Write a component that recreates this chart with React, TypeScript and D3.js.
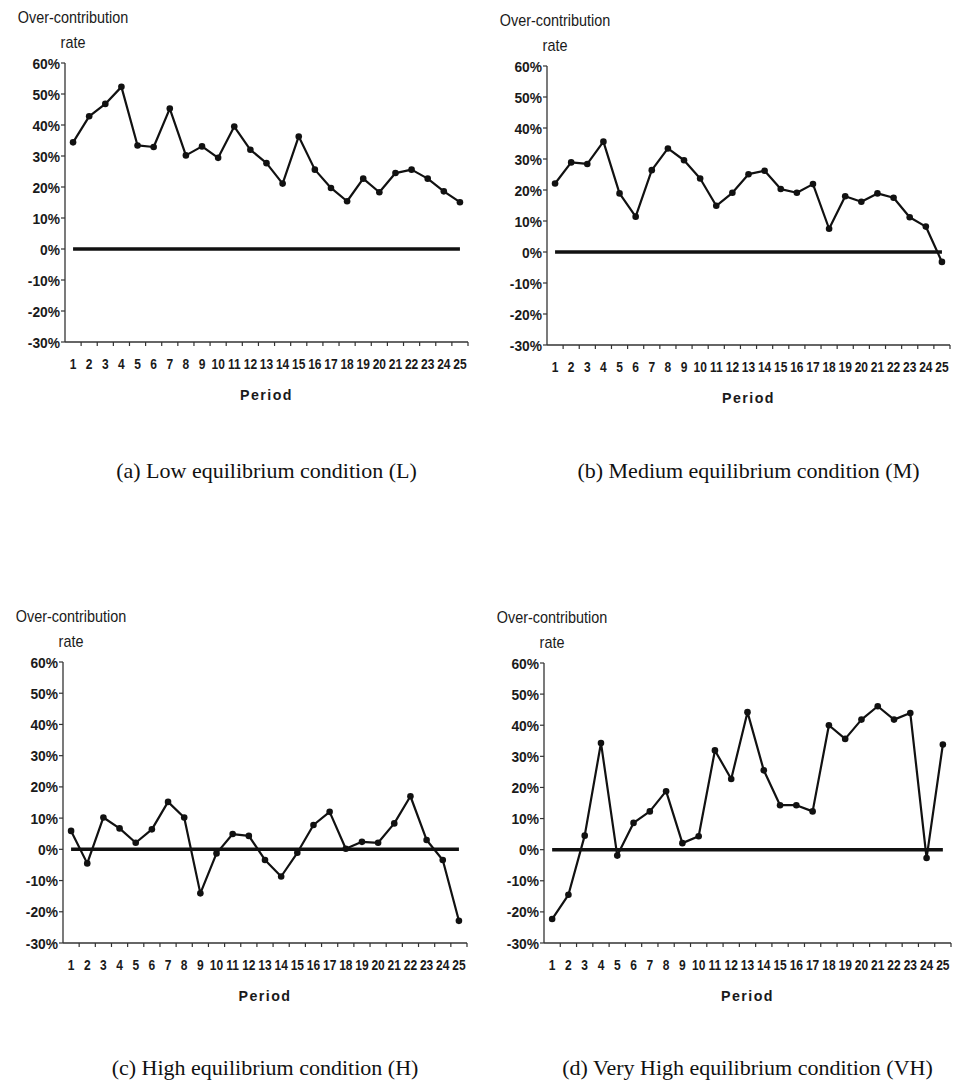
import React from "react";
import { scaleBand, scaleLinear, line } from "d3";

const periods = Array.from({ length: 25 }, (_, i) => i + 1);
const yTicks = [-30, -20, -10, 0, 10, 20, 30, 40, 50, 60];

const lowValues = [
  34.4, 42.8, 46.8, 52.3, 33.4, 32.9, 45.3, 30.2, 33.1, 29.4, 39.5, 32.0, 27.7,
  21.1, 36.3, 25.6, 19.7, 15.4, 22.7, 18.3, 24.5, 25.6, 22.7, 18.6, 15.1,
];
const mediumValues = [
  22.1, 28.9, 28.4, 35.6, 18.9, 11.4, 26.4, 33.4, 29.6, 23.7, 14.9, 19.1, 25.1,
  26.2, 20.3, 19.1, 21.9, 7.5, 18.0, 16.2, 18.9, 17.5, 11.2, 8.2, -3.2,
];
const highValues = [
  5.9, -4.5, 10.2, 6.7, 2.1, 6.4, 15.2, 10.2, -14.1, -1.3, 4.9, 4.3, -3.4,
  -8.7, -1.1, 7.8, 12.0, 0.2, 2.4, 2.1, 8.3, 17.0, 3.0, -3.4, -22.9,
];
const veryHighValues = [
  -22.3, -14.5, 4.5, 34.3, -1.9, 8.6, 12.3, 18.8, 2.1, 4.3, 31.9, 22.7, 44.2,
  25.5, 14.3, 14.3, 12.3, 40.0, 35.6, 41.8, 46.1, 41.8, 43.9, -2.7, 33.8,
];

const captions = [
  "(a) Low equilibrium condition (L)",
  "(b) Medium equilibrium condition (M)",
  "(c) High equilibrium condition (H)",
  "(d) Very High equilibrium condition (VH)",
];

const sans = "'Liberation Sans', Arial, sans-serif";
const serif = "'Liberation Serif', 'Times New Roman', serif";

function Narrow({
  x,
  y,
  sx = 0.86,
  anchor = "middle",
  size = 14,
  weight = 700,
  spacing = 0,
  children,
}: {
  x: number;
  y: number;
  sx?: number;
  anchor?: "start" | "middle" | "end";
  size?: number;
  weight?: number;
  spacing?: number;
  children: React.ReactNode;
}) {
  return (
    <g transform={`translate(${x},${y}) scale(${sx},1)`}>
      <text
        textAnchor={anchor}
        fontFamily={sans}
        fontSize={size}
        fontWeight={weight}
        letterSpacing={spacing}
        fill="#1a1a1a"
      >
        {children}
      </text>
    </g>
  );
}

function Panel({
  values,
  left,
  top,
  right,
  bottom,
  caption,
  captionY,
}: {
  values: number[];
  left: number;
  top: number;
  right: number;
  bottom: number;
  caption: string;
  captionY: number;
}) {
  const x = scaleBand<number>().domain(periods).range([left, right]).padding(0);
  const y = scaleLinear().domain([-30, 60]).range([bottom, top]);
  const cx = (p: number) => x(p)! + x.bandwidth() / 2;

  const path = line<number>()
    .x((_, i) => cx(periods[i]))
    .y((d) => y(d))(values);

  const mid = (left + right) / 2;

  return (
    <g>
      {/* titles */}
      <Narrow x={left + 8} y={top - 40} sx={0.9} size={16} weight={400}>
        Over-contribution
      </Narrow>
      <Narrow x={left + 8} y={top - 15} sx={0.9} size={16} weight={400}>
        rate
      </Narrow>

      {/* axes */}
      <line x1={left} x2={left} y1={top} y2={bottom} stroke="#333" strokeWidth={1.3} />
      <line x1={left} x2={right} y1={bottom} y2={bottom} stroke="#333" strokeWidth={1.3} />
      {yTicks.map((t) => (
        <g key={t}>
          <line x1={left - 4} x2={left} y1={y(t)} y2={y(t)} stroke="#333" strokeWidth={1.2} />
          <Narrow x={left - 5} y={y(t) + 5.5} anchor="end" size={15} sx={0.92}>
            {`${t}%`}
          </Narrow>
        </g>
      ))}
      {periods.map((p) => (
        <g key={p}>
          <line
            x1={x(p)! + x.bandwidth()}
            x2={x(p)! + x.bandwidth()}
            y1={bottom}
            y2={bottom + 4}
            stroke="#333"
            strokeWidth={1.2}
          />
          <Narrow x={cx(p)} y={bottom + 27} size={15} sx={0.8}>
            {p}
          </Narrow>
        </g>
      ))}
      <Narrow x={mid} y={bottom + 58} size={15} sx={0.95} spacing={1.5}>
        Period
      </Narrow>

      {/* zero line */}
      <line
        x1={cx(periods[0])}
        x2={cx(periods[periods.length - 1])}
        y1={y(0)}
        y2={y(0)}
        stroke="#111"
        strokeWidth={3.5}
      />

      {/* series */}
      <path d={path ?? ""} fill="none" stroke="#111" strokeWidth={2.2} strokeLinejoin="round" />
      {values.map((v, i) => (
        <circle key={i} cx={cx(periods[i])} cy={y(v)} r={3.3} fill="#111" />
      ))}

      <text
        x={mid}
        y={captionY}
        textAnchor="middle"
        fontFamily={serif}
        fontSize={22}
        fill="#111"
      >
        {caption}
      </text>
    </g>
  );
}

export default function App() {
  return (
    <svg
      width={960}
      height={1085}
      style={{ position: "absolute", left: 0, top: 0, background: "#fff" }}
    >
      <rect width={960} height={1085} fill="#fff" />
      <Panel values={lowValues} left={65} top={63} right={468} bottom={342} caption={captions[0]} captionY={478} />
      <Panel values={mediumValues} left={547} top={66} right={950} bottom={345} caption={captions[1]} captionY={478} />
      <Panel values={highValues} left={63} top={662} right={467} bottom={943} caption={captions[2]} captionY={1075} />
      <Panel values={veryHighValues} left={544} top={663} right={951} bottom={943} caption={captions[3]} captionY={1075} />
    </svg>
  );
}
